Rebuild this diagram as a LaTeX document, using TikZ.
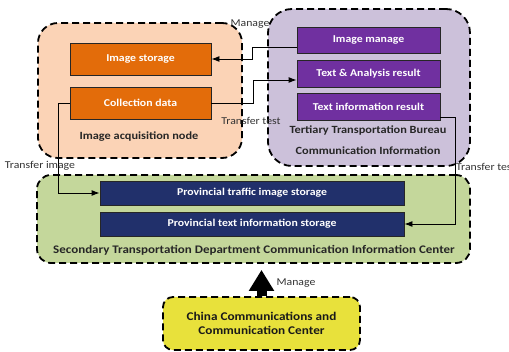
\documentclass[tikz,border=0pt]{standalone}
\usepackage{fontspec}
\setmainfont{Carlito}[FakeStretch=1.12]
\usetikzlibrary{arrows.meta,calc}

\definecolor{peach}{HTML}{FBD3B6}
\definecolor{orangebox}{HTML}{E36C0A}
\definecolor{lilac}{HTML}{CCC1DA}
\definecolor{purplebox}{HTML}{7030A0}
\definecolor{sage}{HTML}{C4D79B}
\definecolor{navybox}{HTML}{21306B}
\definecolor{lemon}{HTML}{E8E13B}

\tikzset{
  group/.style={draw=black, line width=1.8pt, dash pattern=on 7pt off 4pt,
    rounded corners=#1, inner sep=0pt},
  group/.default=18pt,
  unit/.style={draw=black!85, line width=0.9pt, inner sep=0pt,
    text=white, font=\bfseries\fontsize{10.5}{12}\selectfont},
  caption/.style={font=\bfseries\fontsize{11}{13}\selectfont, text=black!85},
  tag/.style={font=\fontsize{10.5}{12}\selectfont, text=black!80, inner sep=0pt},
  conn/.style={draw=black, line width=0.9pt, -{Latex[length=8pt,width=6pt]}},
}

\begin{document}
\begin{tikzpicture}[x=1pt, y=-1pt]
  \path[use as bounding box] (0,0) rectangle (509,352);
  \clip (0,0) rectangle (509,352);

  % containers
  \node[group=20pt, fill=peach, minimum width=204pt, minimum height=135pt]
    (acq) at (140,90.5) {};
  \node[group=24pt, fill=lilac, minimum width=202pt, minimum height=157pt]
    (bureau) at (369,87.5) {};
  \node[group=14pt, fill=sage, minimum width=433pt, minimum height=88pt]
    (dept) at (253.5,219) {};
  \node[group=10pt, fill=lemon, minimum width=197pt, minimum height=53pt]
    (center) at (261.5,323.5) {};

  % image acquisition node
  \node[unit, fill=orangebox, minimum width=141pt, minimum height=32pt]
    (imgstore) at (140.5,59) {Image storage};
  \node[unit, fill=orangebox, minimum width=141pt, minimum height=32pt]
    (coll) at (140.5,103) {Collection data};
  \node[caption] (acqcap) at (139,137) {Image acquisition node};

  % tertiary bureau
  \node[unit, fill=purplebox, minimum width=143pt, minimum height=26pt]
    (imgman) at (368.5,40) {Image manage};
  \node[unit, fill=purplebox, minimum width=143pt, minimum height=27pt]
    (textan) at (368.5,73.5) {Text \& Analysis result};
  \node[unit, fill=purplebox, minimum width=143pt, minimum height=27pt]
    (textinfo) at (368.5,106.5) {Text information result};
  \node[caption] (burcap1) at (368,130.5) {Tertiary Transportation Bureau};
  \node[caption] (burcap2) at (368,151) {Communication Information};

  % secondary department
  \node[unit, fill=navybox, minimum width=304pt, minimum height=24pt]
    (provimg) at (252,193) {Provincial traffic image storage};
  \node[unit, fill=navybox, minimum width=304pt, minimum height=24pt]
    (provtext) at (252,224) {Provincial text information storage};
  \node[caption, font=\bfseries\fontsize{11.6}{13}\selectfont]
    (deptcap) at (254,250) {Secondary Transportation Department Communication Information Center};

  % national centre
  \node[font=\bfseries\fontsize{11.8}{14}\selectfont, align=center, text=black!90]
    (centercap) at (center) {China Communications and\\Communication Center};

  % connectors
  \draw[conn] ($(imgman.west)+(0,7)$) -- ++(-44,0) |- (imgstore.east);
  \draw[conn] (coll.east) -- ++(42,0) |- ($(textan.west)+(0,6.5)$);
  \draw[conn] (coll.west) -- ++(-11,0) |- (provimg.west);
  \draw[conn] ($(textinfo.east)+(0,10.5)$) -- ++(15,0) |- (provtext.east);

  % management arrow
  \draw[line width=10pt, -{Triangle[length=21pt,width=24pt]}, shorten >=6pt]
    (center.north) -- (center.north |- dept.south);

  % labels
  \node[tag] (lblmanage) at (250,24) {Manage};
  \node[tag] (lbltest) at (251,121) {Transfer test};
  \node[tag] (lblimage) at (40,166) {Transfer image};
  \node[tag, anchor=west] (lbltest2) at (456,167) {Transfer test};
  \node[tag] (lblmanage2) at (296,283) {Manage};
\end{tikzpicture}
\end{document}
